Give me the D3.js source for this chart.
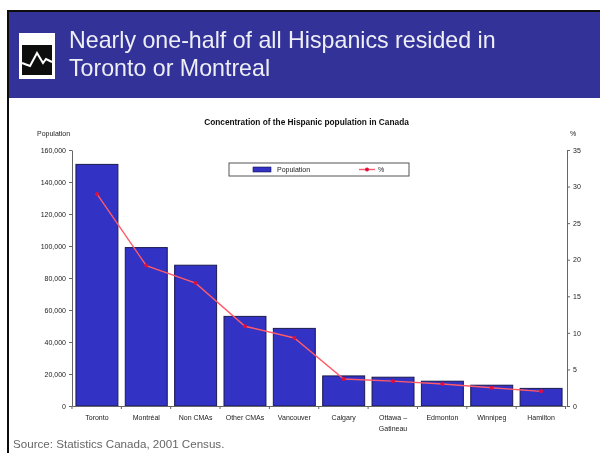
<!DOCTYPE html>
<html lang="en">
<head>
  <meta charset="UTF-8">
  <title>Hispanic population in Canada</title>
  <style>
    html, body { margin: 0; background: #fff; overflow: hidden; }
    svg { display: block; font-family: "Liberation Sans", sans-serif; }
    .tiny { font-size: 7px; fill: #222; }
  </style>
</head>
<body>
  <script src="https://d3js.org/d3.v7.min.js"></script>
  <div id="chart"></div>

  <script>
    const cities = ['Toronto', 'Montréal', 'Non CMAs', 'Other CMAs', 'Vancouver', 'Calgary', 'Ottawa – Gatineau', 'Edmonton', 'Winnipeg', 'Hamilton']
    const population = [151000, 99000, 88000, 56000, 48500, 18800, 18000, 15500, 13000, 11000]
    const percent = [29, 19.2, 16.8, 10.9, 9.3, 3.7, 3.4, 3, 2.5, 2]
    const popTicks = [0, 20000, 40000, 60000, 80000, 100000, 120000, 140000, 160000]
    const pctTicks = [0, 5, 10, 15, 20, 25, 30, 35]
    const titleLines = ['Nearly one-half of all Hispanics resided in', 'Toronto or Montreal']

    const svg = d3.select('#chart')
      .append('svg')
      .attr('width', 600)
      .attr('height', 453)

    // keeps the soft look of the source image
    svg.append('filter').attr('id', 'soft')
      .attr('filterUnits', 'userSpaceOnUse')
      .attr('x', 0).attr('y', 0).attr('width', 600).attr('height', 453)
      .append('feGaussianBlur').attr('stdDeviation', 0.75)

    const page = svg.append('g').attr('filter', 'url(#soft)')

    // slide frame and header =================================================
    page.append('rect').attr('x', 7).attr('y', 10).attr('width', 600).attr('height', 2).attr('fill', '#111')
    page.append('rect').attr('x', 7).attr('y', 10).attr('width', 2).attr('height', 450).attr('fill', '#111')
    page.append('rect').attr('x', 9).attr('y', 12).attr('width', 600).attr('height', 86).attr('fill', '#333399')

    // header icon
    const icon = page.append('g').attr('transform', 'translate(19, 33)')
    icon.append('rect').attr('width', 36).attr('height', 46).attr('fill', '#fff')
    icon.append('rect').attr('x', 3).attr('y', 12).attr('width', 30).attr('height', 30).attr('fill', '#111')
    icon.append('path')
      .attr('d', 'M3 30 L11 33 L18 20 L24 30 L27 26 L33 29')
      .attr('fill', 'none').attr('stroke', '#fff').attr('stroke-width', 2)

    page.selectAll('.slide-title')
      .data(titleLines)
      .join('text')
      .attr('class', 'slide-title')
      .attr('x', 69)
      .attr('y', (d, i) => 48 + i * 28)
      .attr('font-size', 23.2)
      .attr('fill', '#eeeef6')
      .text(d => d)

    // chart ==================================================================
    const x = d3.scaleBand().domain(cities).range([72, 566]).paddingInner(0.15).paddingOuter(0.08)
    const yPop = d3.scaleLinear().domain([0, 160000]).range([406, 150])
    const yPct = d3.scaleLinear().domain([0, 35]).range([406, 150])

    page.append('text')
      .attr('x', 306.5).attr('y', 125)
      .attr('text-anchor', 'middle')
      .attr('font-size', 8.3).attr('font-weight', 'bold').attr('fill', '#111')
      .text('Concentration of the Hispanic population in Canada')

    page.append('text').attr('class', 'tiny').attr('x', 37).attr('y', 136).text('Population')
    page.append('text').attr('class', 'tiny').attr('x', 570).attr('y', 136).text('%')

    page.selectAll('.bar')
      .data(cities)
      .join('rect')
      .attr('class', 'bar')
      .attr('x', d => x(d))
      .attr('y', (d, i) => yPop(population[i]))
      .attr('width', x.bandwidth())
      .attr('height', (d, i) => yPop(0) - yPop(population[i]))
      .attr('fill', '#3030c4')
      .attr('stroke', '#1a1a50')
      .attr('stroke-width', 1)

    const line = d3.line()
      .x((d, i) => x(cities[i]) + x.bandwidth() / 2)
      .y(d => yPct(d))

    page.append('path')
      .datum(percent)
      .attr('d', line)
      .attr('fill', 'none')
      .attr('stroke', '#ff5a6a')
      .attr('stroke-width', 1.4)

    page.selectAll('.dot')
      .data(percent)
      .join('circle')
      .attr('class', 'dot')
      .attr('cx', (d, i) => x(cities[i]) + x.bandwidth() / 2)
      .attr('cy', d => yPct(d))
      .attr('r', 2)
      .attr('fill', '#e0103c')

    // axes
    const styleAxis = g => {
      g.selectAll('path,line').attr('stroke', '#666').attr('stroke-width', 1)
      g.selectAll('text').attr('font-size', 7).attr('fill', '#222')
    }

    page.append('g')
      .attr('transform', 'translate(72, 0)')
      .call(d3.axisLeft(yPop).tickValues(popTicks).tickFormat(d3.format(',')).tickSize(3).tickSizeOuter(0))
      .call(styleAxis)

    page.append('g')
      .attr('transform', 'translate(567, 0)')
      .call(d3.axisRight(yPct).tickValues(pctTicks).tickSize(3).tickSizeOuter(0))
      .call(styleAxis)

    const xAxis = page.append('g')
      .attr('transform', 'translate(0, 406)')
      .call(d3.axisBottom(x).tickSize(0).tickPadding(9))
      .call(styleAxis)

    // the axis ticks sit between the bars
    xAxis.selectAll('.between')
      .data(d3.range(cities.length + 1))
      .join('line')
      .attr('class', 'between')
      .attr('x1', i => 72 + i * x.step())
      .attr('x2', i => 72 + i * x.step())
      .attr('y1', 0)
      .attr('y2', 3)
      .attr('stroke', '#666')
      .attr('stroke-width', 1)

    // wrap the Ottawa label on two lines
    xAxis.selectAll('.tick text')
      .filter(d => d === 'Ottawa – Gatineau')
      .text('Ottawa –')
      .append('tspan')
      .attr('x', 0)
      .attr('dy', 11)
      .text('Gatineau')

    // legend
    const legend = page.append('g').attr('transform', 'translate(229, 163)')
    legend.append('rect').attr('width', 180).attr('height', 13).attr('fill', '#fff').attr('stroke', '#555').attr('stroke-width', 1)
    legend.append('rect').attr('x', 24).attr('y', 4).attr('width', 18).attr('height', 5).attr('fill', '#3030c4').attr('stroke', '#1a1a50').attr('stroke-width', 0.6)
    legend.append('text').attr('class', 'tiny').attr('x', 48).attr('y', 9).text('Population')
    legend.append('line').attr('x1', 130).attr('x2', 146).attr('y1', 6.5).attr('y2', 6.5).attr('stroke', '#ff5a6a').attr('stroke-width', 1.4)
    legend.append('circle').attr('cx', 138).attr('cy', 6.5).attr('r', 2).attr('fill', '#e0103c')
    legend.append('text').attr('class', 'tiny').attr('x', 149).attr('y', 9).text('%')

    page.append('text')
      .attr('x', 13).attr('y', 448)
      .attr('font-size', 11.6).attr('fill', '#666')
      .text('Source: Statistics Canada, 2001 Census.')
  </script>
</body>
</html>
